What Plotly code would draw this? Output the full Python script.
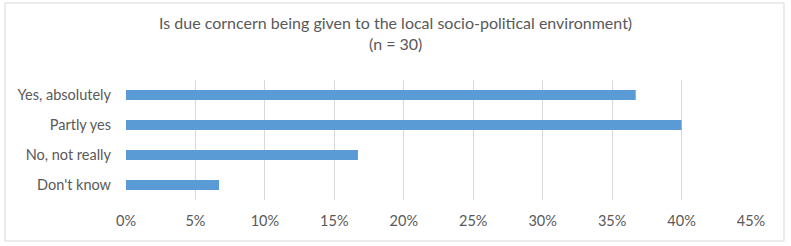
import plotly.graph_objects as go

categories = ["Yes, absolutely", "Partly yes", "No, not really", "Don't know"]
values = [0.367, 0.40, 0.167, 0.067]
tick_vals = [0, 0.05, 0.10, 0.15, 0.20, 0.25, 0.30, 0.35, 0.40, 0.45]
tick_text = ["0%", "5%", "10%", "15%", "20%", "25%", "30%", "35%", "40%", "45%"]
title_lines = ["Is due corncern being given to the local socio-political environment)", "(n = 30)"]

font_family = "Lato, Open Sans, sans-serif"
text_color = "#595959"

fig = go.Figure(go.Bar(
    x=values, y=categories, orientation="h",
    marker=dict(color="#5B9BD5", line=dict(width=0)),
    width=0.34,
))

L, R, T, B = 126, 40, 80, 46
W, H = 791, 246
pw, ph = W - L - R, H - T - B

def py(pix):
    return (T + ph - pix) / ph

annotations = [
    dict(text=title_lines[0], xref="paper", yref="paper", x=(395 - L) / pw, y=py(23),
         xanchor="center", yanchor="middle", showarrow=False,
         font=dict(family=font_family, size=16, color=text_color)),
    dict(text=title_lines[1], xref="paper", yref="paper", x=(395 - L) / pw, y=py(44),
         xanchor="center", yanchor="middle", showarrow=False,
         font=dict(family=font_family, size=16, color=text_color)),
]

fig.update_layout(
    width=W, height=H,
    margin=dict(l=L, r=R, t=T, b=B),
    paper_bgcolor="white", plot_bgcolor="white",
    font=dict(family=font_family, size=14, color=text_color),
    xaxis=dict(
        range=[0, 0.45], tickvals=tick_vals, ticktext=tick_text,
        showgrid=True, gridcolor="#D9D9D9", gridwidth=1,
        zeroline=False, showline=False, ticks="",
        ticklabelstandoff=10,
        tickfont=dict(size=14.5, color=text_color),
        fixedrange=True,
    ),
    yaxis=dict(
        categoryorder="array", categoryarray=categories[::-1],
        showgrid=False, zeroline=False, showline=False, ticks="",
        ticklabelstandoff=14,
        tickfont=dict(size=14.5, color=text_color),
    ),
    showlegend=False,
    annotations=annotations,
    shapes=[dict(
        type="rect", xref="paper", yref="paper",
        x0=(5 - L) / pw, x1=(784 - L) / pw,
        y0=py(241), y1=py(3),
        line=dict(color="#D9D9D9", width=1), fillcolor="rgba(0,0,0,0)",
        layer="below",
    )],
)

fig.write_html("out.html")
